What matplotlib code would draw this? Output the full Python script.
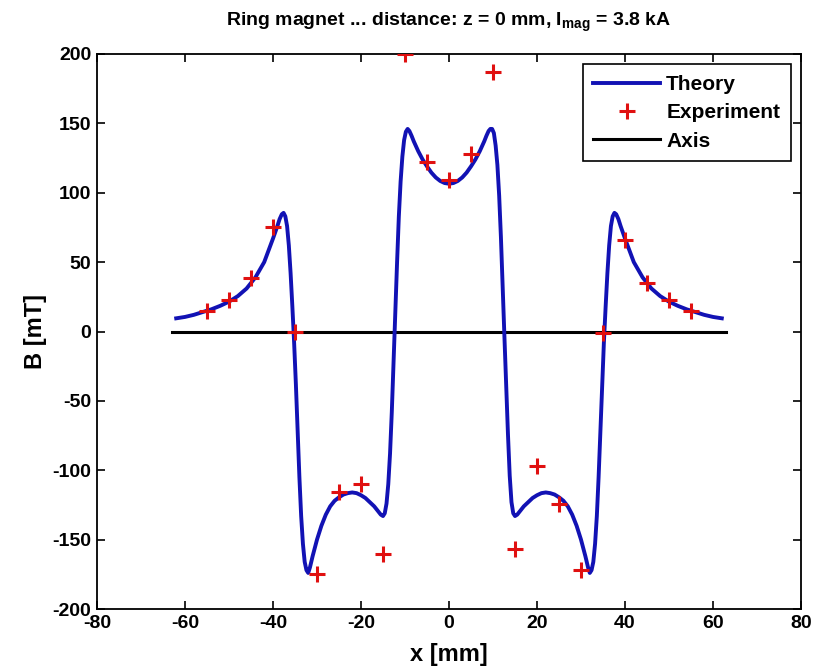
import matplotlib
matplotlib.use("Agg")
import matplotlib.pyplot as plt

# experiment points
x_exp = [-55, -50, -45, -40, -35, -30, -25, -20, -15, -10, -5, 0,
         5, 10, 15, 20, 25, 30, 35, 40, 45, 50, 55]
b_exp = [15, 22.5, 38.5, 75, 0, -175, -116, -110, -160, 200, 122, 109,
         128, 187, -157, -97, -124, -172, -1, 66, 35, 23, 15]

# theory curve
x_th = [-62, -60, -58, -56, -54, -52, -50, -48, -46, -44, -42, -40, -39, -38.5,
        -38, -37.6, -37.2, -36.8, -36.4, -36, -35.6, -35.2, -34.8, -34.4, -34,
        -33.6, -33.2, -32.8, -32.4, -32, -31.6, -31, -30, -29, -28, -27, -26,
        -25, -24, -23, -22, -21, -20, -19, -18, -17, -16, -15.5, -15, -14.6,
        -14.2, -13.8, -13.4, -13, -12.6, -12.2, -11.8, -11.4, -11, -10.6, -10.2,
        -9.8, -9.4, -9, -8.5, -8, -7, -6, -5, -4, -3, -2, -1, 0,
        1, 2, 3, 4, 5, 6, 7, 8, 8.5, 9, 9.4, 9.8, 10.2, 10.6, 11, 11.4, 11.8,
        12.2, 12.6, 13, 13.4, 13.8, 14.2, 14.6, 15, 15.5, 16, 17, 18, 19, 20,
        21, 22, 23, 24, 25, 26, 27, 28, 29, 30, 31, 31.6, 32, 32.4, 32.8, 33.2,
        33.6, 34, 34.4, 34.8, 35.2, 35.6, 36, 36.4, 36.8, 37.2, 37.6, 38, 38.5,
        39, 40, 42, 44, 46, 48, 50, 52, 54, 56, 58, 60, 62]
b_th = [9.5, 10.5, 12, 14, 16, 18.5, 21.5, 25.5, 31, 39, 50, 67, 76, 81,
        84.5, 85.5, 83, 76, 62, 42, 18, -8, -38, -72, -105,
        -133, -153, -166, -172, -174, -170, -162, -150, -140, -132, -126, -122,
        -119.5, -117.5, -116.5, -116, -116.5, -118, -120, -123, -126, -130, -132, -133, -131,
        -124, -110, -88, -58, -22, 14, 50, 83, 108, 126, 138,
        144, 146, 144.5, 141, 137, 130, 124, 119, 114.5, 111, 108.5, 107, 106.5,
        107, 108.5, 111, 114.5, 119, 124, 130, 137, 141, 144.5, 146, 146, 143, 134, 120, 98, 68,
        33, -4, -40, -74, -104, -123, -131, -133, -132, -130, -126, -123, -120, -118,
        -116.5, -116, -116.5, -117.5, -119.5, -122, -126, -132, -140, -150, -162, -170, -174, -172, -166, -153,
        -133, -105, -72, -38, -8, 18, 42, 62, 76, 83, 85.5, 84.5, 81,
        76, 67, 50, 39, 31, 25.5, 21.5, 18.5, 16, 14, 12, 10.5, 9.5]

x_axis = [-63, 63]
b_axis = [0, 0]

xticks = [-80, -60, -40, -20, 0, 20, 40, 60, 80]
yticks = [-200, -150, -100, -50, 0, 50, 100, 150, 200]

fam = 'Liberation Sans'
plt.rcParams['font.family'] = [fam, 'DejaVu Sans']
plt.rcParams['font.weight'] = 'bold'
plt.rcParams['axes.unicode_minus'] = False
plt.rcParams['mathtext.fontset'] = 'custom'
plt.rcParams['mathtext.rm'] = fam + ':bold'
plt.rcParams['mathtext.it'] = fam + ':bold'
plt.rcParams['mathtext.bf'] = fam + ':bold'

fig = plt.figure(figsize=(8.14, 6.71), dpi=100)
ax = fig.add_axes([97/814, 1 - 609/671, 704/814, 555/671])

ax.plot(x_th, b_th, color='#1212b4', lw=2.8, label='Theory', zorder=2)
ax.plot(x_exp, b_exp, '+', color='#e01010', ms=11, mew=2.2, label='Experiment', zorder=3)
ax.plot(x_axis, b_axis, color='black', lw=2.2, label='Axis', zorder=1)

ax.set_xlim(-80, 80)
ax.set_ylim(-200, 200)
ax.set_xticks(xticks)
ax.set_yticks(yticks)
ax.tick_params(direction='in', top=True, right=True, length=6, width=1.2,
               labelsize=14, pad=4)
for s in ax.spines.values():
    s.set_linewidth(1.3)

ax.set_title(r'Ring magnet ... distance: z = 0 mm, I$_{\rm mag}$ = 3.8 kA',
             fontsize=14, fontweight='bold', pad=20)
ax.set_xlabel('x [mm]', fontsize=17, fontweight='bold', labelpad=8)
ax.set_ylabel('B [mT]', fontsize=17, fontweight='bold', labelpad=4)

leg = ax.legend(loc='upper right', fontsize=15, frameon=True, fancybox=False,
                edgecolor='black', framealpha=1, borderaxespad=0.5,
                handlelength=3.2, labelspacing=0.45, handletextpad=0.3,
                borderpad=0.5)
leg.get_frame().set_linewidth(1.2)

fig.savefig('out.png', dpi=100)
